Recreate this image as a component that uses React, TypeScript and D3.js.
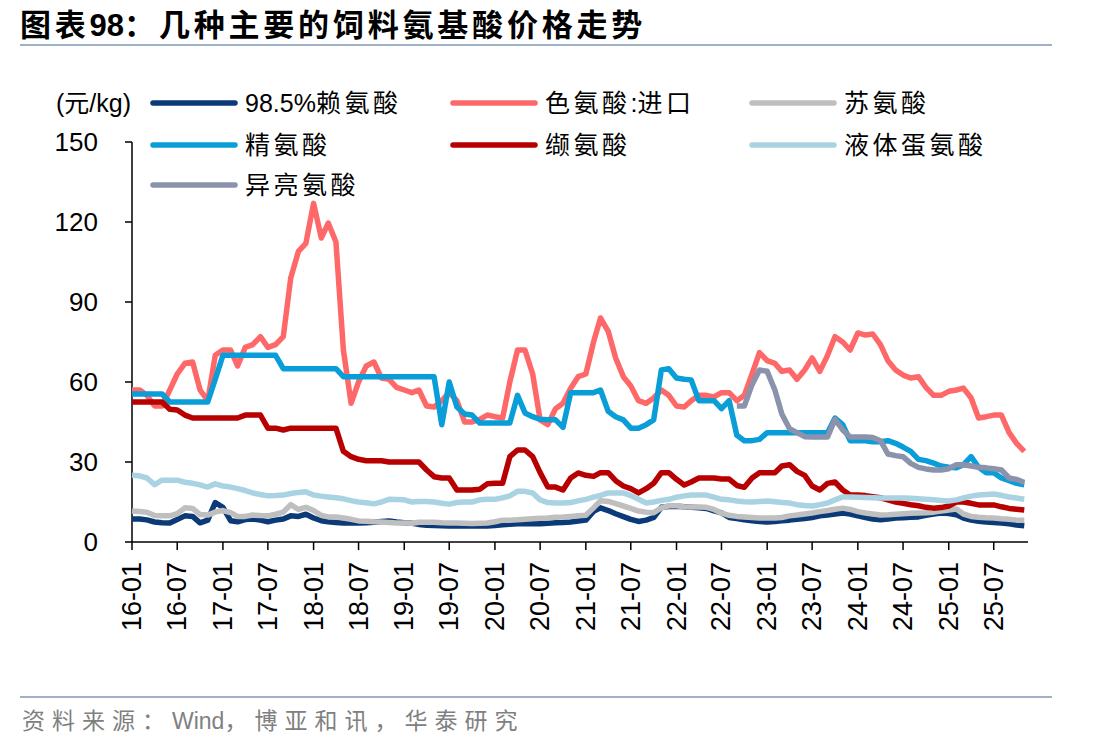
import React from 'react';
import * as d3 from 'd3';

// ---- data (monthly, starting 2016-01) ----
const seriesNames = ['98.5%赖氨酸', '色氨酸:进口', '苏氨酸', '精氨酸', '缬氨酸', '液体蛋氨酸', '异亮氨酸'];
const yTickValues = [0, 30, 60, 90, 120, 150];
const yUnitLabel = '(元/kg)';
const titleText = '图表98：几种主要的饲料氨基酸价格走势';
const sourceText = '资料来源：Wind，博亚和讯，华泰研究';

const lysine = [
  8.6, 8.6, 8.3, 7.5, 7.2, 7.1, 8.4, 9.8, 9.6, 7.2,
  8.2, 14.8, 13, 8, 7.6, 8.4, 8.6, 8.2, 7.6, 8.2,
  8.6, 9.8, 9.6, 10.4, 9, 8, 7.6, 7.3, 7.1, 7.1,
  7.1, 7.2, 7.4, 7.7, 7.9, 7.5, 7.2, 7, 6.6, 6.3,
  6.2, 6.1, 6, 6, 6, 6, 6, 6, 6.2, 6.5,
  6.7, 6.8, 6.8, 6.8, 6.8, 7, 7.2, 7.3, 7.5, 7.9,
  8.2, 11.5, 12.8, 11.8, 10.6, 9.5, 8.5, 7.7, 8.2, 9.2,
  13, 13.3, 13.4, 13.2, 13, 12.8, 12.6, 11.7, 10.9, 9.2,
  8.8, 8.3, 8, 7.7, 7.5, 7.7, 8, 8.2, 8.5, 8.8,
  9.2, 9.8, 10.1, 10.5, 10.9, 10.5, 9.8, 9.2, 8.6, 8.3,
  8.6, 9, 9.1, 9.3, 9.4, 10, 10.5, 10.9, 10.7, 10.2,
  9, 8.2, 7.8, 7.5, 7.3, 7.1, 6.8, 6.4, 6.1,
];

const tryptophan = [
  57, 57, 55, 51, 51, 57, 63, 67, 67.5, 57,
  53, 70, 72, 72, 66, 73, 74, 77, 73, 74,
  77, 99, 109, 112, 127, 114, 119.6, 112.5, 72, 52,
  60, 66, 67.5, 61.5, 61, 58, 57, 56, 57, 51,
  50.6, 53, 56, 53, 45, 45, 46, 47.6, 47, 46.5,
  60, 72, 72, 63, 45.8, 44, 50, 52, 57.7, 62,
  63, 75, 84, 79, 69, 62, 58.5, 53, 52, 54,
  57, 55, 51, 50.6, 53, 55, 55, 54.4, 56, 56,
  53, 55, 63, 71, 68, 67, 64, 64.5, 61, 64.5,
  69, 64, 70, 77, 75, 72, 78.4, 77.6, 78, 74,
  68, 64.5, 62.6, 61.5, 62, 58, 55, 55, 56.5, 57,
  57.7, 54, 46.5, 47, 47.6, 47.6, 41, 37, 34,
];

const threonine = [
  11.6, 11.4, 11.2, 9.9, 9.8, 9.8, 10.6, 12.8, 12.6, 10.3,
  10.1, 11.2, 11.8, 11, 9.6, 9.6, 10.1, 9.9, 9.8, 10.4,
  11.2, 14, 12.2, 13, 11.8, 10, 9.4, 9.4, 9, 8.5,
  7.9, 7.8, 7.6, 7.5, 7.3, 7.1, 7.1, 7, 7.4, 7.4,
  7.4, 7.2, 7.1, 7.1, 7, 6.9, 7, 7.1, 7.6, 8.2,
  8.2, 8.3, 8.5, 8.7, 8.9, 9, 9.3, 9.4, 9.6, 9.8,
  10, 12.8, 15.5, 15.2, 14.4, 13.5, 12.6, 11.6, 11.2, 11,
  12.8, 13.6, 13.6, 13.2, 13.1, 13.1, 13, 12.2, 10.8, 10,
  9.6, 9.4, 9.2, 9, 9, 9, 9.2, 9.8, 10.1, 10.5,
  10.9, 11.4, 11.8, 12.3, 12.7, 12.2, 11.4, 10.9, 10.5, 10.1,
  10.2, 10.4, 10.6, 10.8, 10.9, 11, 11.2, 11.6, 12, 12.4,
  10.5, 9.6, 9.3, 9.1, 9, 8.7, 8.5, 8.2, 8.2,
];

const arginine = [
  55.5, 55.5, 55.5, 55.5, 55.5, 52.5, 52.5, 52.5, 52.5, 52.5,
  52.5, 61, 70, 70, 70, 70, 70, 70, 70, 70,
  65, 65, 65, 65, 65, 65, 65, 65, 62, 62,
  62, 62, 62, 62, 62, 62, 62, 62, 62, 62,
  62, 44, 60, 50.6, 48, 47.6, 44.6, 44.6, 44.6, 44.6,
  44.6, 55, 48.4, 47, 46, 45.8, 45.8, 43, 56, 56,
  56, 56, 57, 49, 47, 45.8, 42.7, 42.7, 44, 45.8,
  64.5, 65, 61.5, 61, 60.8, 53, 53, 53, 50, 53,
  40, 38, 38, 38.5, 41, 41, 41, 41, 41, 41,
  41, 41, 41, 46.5, 44, 38, 38, 38, 37.6, 37.6,
  38, 37, 35.6, 34, 31, 30.5, 29.6, 28.5, 28, 27.8,
  29, 32, 28, 26, 26, 24, 23, 22, 21.5,
];

const valine = [
  52.5, 52.5, 52.5, 52.5, 52.5, 49.8, 49.5, 47.6, 46.5, 46.5,
  46.5, 46.5, 46.5, 46.5, 46.5, 47.6, 47.6, 47.6, 42.7, 42.7,
  42, 42.7, 42.7, 42.7, 42.7, 42.7, 42.7, 42.7, 34, 32,
  31, 30.5, 30.5, 30.5, 30, 30, 30, 30, 30, 27,
  24.5, 24, 24, 19.5, 19.5, 19.5, 19.8, 21.8, 22, 22,
  32, 34.5, 34.5, 32, 26, 20.6, 20.6, 19.5, 24, 25.9,
  25, 24.6, 26, 26, 23, 21, 20, 18.4, 20, 22,
  26, 26, 23.5, 21.4, 22.5, 24, 24, 24, 23.6, 23.6,
  21.2, 20.5, 24, 26, 26, 26, 28.5, 29, 26.5, 25,
  21, 19.5, 22, 22.5, 19.5, 17.6, 17.6, 17.4, 17, 16.6,
  15.8, 15, 14.5, 14, 13.6, 13, 12.7, 12.9, 13.5, 15,
  15, 14.5, 13.9, 13.9, 13.9, 13.2, 12.6, 12.3, 12,
];

const liquidMethionine = [
  25, 24.8, 24, 21.5, 23.2, 23.2, 23.2, 22.4, 22, 21.4,
  20.6, 21.8, 21, 20.6, 20, 19.3, 18.4, 17.8, 17.3, 17.4,
  17.6, 18.2, 18.6, 18.8, 17.6, 17.2, 16.9, 16.6, 16.2, 15.5,
  15, 14.7, 14.3, 15, 16, 15.9, 15.8, 15, 15.2, 15.2,
  15, 14.5, 14.2, 14.8, 15, 15, 15.8, 16, 16, 16.6,
  17.3, 19, 19, 18.4, 15.8, 14.8, 14.6, 14.6, 14.8, 15.4,
  16, 16.8, 17.5, 18.4, 18.4, 18.4, 17.4, 16, 14.6, 15,
  15.6, 16, 16.8, 17.3, 17.6, 17.6, 17.6, 16.8, 16, 15.8,
  15.4, 15.1, 15, 15.2, 15.4, 15.1, 14.8, 14.6, 14, 13.7,
  13.5, 14, 14.6, 15.8, 16.9, 16.9, 16.8, 16.7, 16.6, 16.5,
  16.5, 16.5, 16.5, 16.4, 16.2, 16, 15.8, 15.6, 15.4, 15.8,
  16.5, 17.2, 17.6, 17.8, 18, 17.5, 16.9, 16.5, 16,
];

// isoleucine series begins at month index 80 (2022-09)
const isoleucineStartIndex = 80;
const isoleucine = [
  51, 51, 59, 64.5, 64, 57, 48, 42.5, 41, 39.5,
  39.4, 39.4, 39.4, 46, 42, 39.4, 39.4, 39.4, 39.2, 38,
  33, 32.4, 32, 29.5, 28, 27.4, 27, 27, 27.5, 29,
  29, 28.5, 28, 27.8, 27.5, 27, 24, 23.5, 22.3,
];

const colors = ['#0B3A78', '#FF6868', '#BFBFBF', '#0A9ED8', '#B80000', '#A9D3E3', '#8A92AC'];

const FONT = "'Liberation Sans', Arial, 'Noto Sans CJK SC', sans-serif";

// split a string into CJK / non-CJK runs so spacing applies only to CJK glyphs
function runs(s: string): { t: string; cjk: boolean }[] {
  const out: { t: string; cjk: boolean }[] = [];
  for (const ch of s) {
    const cjk = /[\u3000-\u9fff\uff00-\uffef]/.test(ch);
    const last = out[out.length - 1];
    if (last && last.cjk === cjk) last.t += ch;
    else out.push({ t: ch, cjk });
  }
  return out;
}

function Spaced({ text, spacing }: { text: string; spacing: number }) {
  return (
    <>
      {runs(text).map((r, i) => (
        <tspan key={i} letterSpacing={r.cjk ? spacing : 0}>
          {r.t}
        </tspan>
      ))}
    </>
  );
}

export default function App() {
  const W = 1111;
  const H = 751;
  const x = d3.scaleTime().domain([new Date(2016, 0, 1), new Date(2025, 10, 16)]).range([132, 1028]);
  const y = d3.scaleLinear().domain([0, 150]).range([542, 142]);
  const dates = lysine.map((_, i) => new Date(2016, i, 1));

  const isoFull: (number | null)[] = dates.map((_, i) =>
    i >= isoleucineStartIndex ? isoleucine[i - isoleucineStartIndex] : null
  );
  const allSeries: (number | null)[][] = [lysine, tryptophan, threonine, arginine, valine, liquidMethionine, isoFull];

  const line = d3
    .line<[Date, number | null]>()
    .defined((d) => d[1] != null)
    .x((d) => x(d[0]))
    .y((d) => y(d[1] as number));

  const xTicks = x.ticks(d3.timeMonth.every(6) as any);
  const fmt = d3.timeFormat('%y-%m');

  const legendCols = [153, 453, 752];
  const legendRows = [103, 145, 185];
  const lineLen = 82;

  return (
    <svg width={W} height={H} style={{ position: 'absolute', left: 0, top: 0, background: '#fff' }}>
      {/* title */}
      <text x={20} y={36} fontFamily={FONT} fontWeight={700} fontSize={31} fill="#000">
        <Spaced text={titleText} spacing={3.8} />
      </text>
      <line x1={20} x2={1052} y1={45} y2={45} stroke="#9DB2CA" strokeWidth={2} />

      {/* y axis */}
      <line x1={132} x2={132} y1={y(150)} y2={y(0)} stroke="#000" strokeWidth={1.5} />
      {yTickValues.map((v) => (
        <g key={v}>
          <line x1={125} x2={132} y1={y(v)} y2={y(v)} stroke="#000" strokeWidth={1.5} />
          <text x={98} y={y(v)} textAnchor="end" dominantBaseline="central" fontFamily={FONT} fontSize={26} fill="#000">
            {v}
          </text>
        </g>
      ))}
      <text x={56} y={103} dominantBaseline="central" fontFamily={FONT} fontSize={25} fill="#000">
        {yUnitLabel}
      </text>

      {/* x axis */}
      <line x1={132} x2={1028} y1={y(0)} y2={y(0)} stroke="#000" strokeWidth={1.5} />
      {xTicks.map((d) => (
        <g key={+d}>
          <line x1={x(d)} x2={x(d)} y1={y(0)} y2={y(0) + 8} stroke="#000" strokeWidth={1.5} />
          <text
            transform={`translate(${x(d)},${y(0) + 20}) rotate(-90)`}
            textAnchor="end"
            dominantBaseline="central"
            fontFamily={FONT}
            fontSize={27}
            fill="#000"
          >
            {fmt(d)}
          </text>
        </g>
      ))}

      {/* series */}
      {allSeries.map((s, k) => (
        <path
          key={k}
          d={line(dates.map((d, i) => [d, s[i]] as [Date, number | null])) || ''}
          fill="none"
          stroke={colors[k]}
          strokeWidth={5.5}
          strokeLinejoin="round"
          strokeLinecap="butt"
        />
      ))}

      {/* legend */}
      {seriesNames.map((name, k) => {
        const col = k % 3;
        const row = Math.floor(k / 3);
        const lx = legendCols[col];
        const ly = legendRows[row];
        return (
          <g key={name}>
            <line x1={lx} x2={lx + lineLen} y1={ly} y2={ly} stroke={colors[k]} strokeWidth={5.5} strokeLinecap="round" />
            <text x={lx + lineLen + 10} y={ly} dominantBaseline="central" fontFamily={FONT} fontSize={25} fill="#000">
              <Spaced text={name} spacing={3.5} />
            </text>
          </g>
        );
      })}

      {/* footer */}
      <line x1={20} x2={1052} y1={697} y2={697} stroke="#9DB2CA" strokeWidth={2} />
      <text x={22} y={721} dominantBaseline="central" fontFamily={FONT} fontSize={23} fill="#808080">
        <Spaced text={sourceText} spacing={7} />
      </text>
    </svg>
  );
}
